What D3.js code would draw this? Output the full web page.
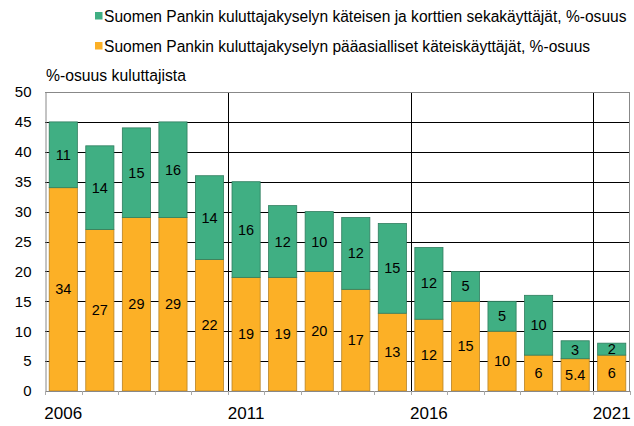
<!DOCTYPE html>
<html>
<head>
<meta charset="utf-8">
<script src="https://cdn.jsdelivr.net/npm/d3@7"></script>
<style>
    body { margin: 0; background: #fff; }
    svg { display: block; font-family: "Liberation Sans", Arial, sans-serif; }
</style>
</head>
<body>
<svg id="chart" width="634" height="426"></svg>
<script>
var years = [2006, 2007, 2008, 2009, 2010, 2011, 2012, 2013, 2014, 2015, 2016, 2017, 2018, 2019, 2020, 2021];
var cashMain = [34, 27, 29, 29, 22, 19, 19, 20, 17, 13, 12, 15, 10, 6, 5.4, 6];
var mixedUse = [11, 14, 15, 16, 14, 16, 12, 10, 12, 15, 12, 5, 5, 10, 3, 2];
var yTicks = [0, 5, 10, 15, 20, 25, 30, 35, 40, 45, 50];
var xLabels = [2006, 2011, 2016, 2021];
var legendLabels = [
    "Suomen Pankin kuluttajakyselyn käteisen ja korttien sekakäyttäjät, %-osuus",
    "Suomen Pankin kuluttajakyselyn pääasialliset käteiskäyttäjät, %-osuus"
];

var green = "#40af83", orange = "#fcb026";

var svg = d3.select("#chart");
var plotLeft = 45, plotRight = 630, plotTop = 92, plotBottom = 391;

var x = d3.scaleBand().domain(years).range([plotLeft, plotRight]).paddingInner(0.23).paddingOuter(0.115);
var y = d3.scaleLinear().domain([0, 50]).range([plotBottom, plotTop]);
var step = x.step();

// gridlines
svg.selectAll(".grid").data(yTicks.filter(function (d) { return d > 0 && d < 50; }))
    .enter().append("line")
    .attr("x1", plotLeft).attr("x2", plotRight)
    .attr("y1", function (d) { return Math.round(y(d)) + 0.5; })
    .attr("y2", function (d) { return Math.round(y(d)) + 0.5; })
    .style("stroke", "#000").style("stroke-width", 1);

// vertical separators before 2011, 2016, 2021
[2011, 2016, 2021].forEach(function (yr) {
    var xs = Math.round(x(yr) - x.paddingInner() * step / 2) + 0.5;
    svg.append("line").attr("x1", xs).attr("x2", xs).attr("y1", plotTop).attr("y2", plotBottom)
        .style("stroke", "#000").style("stroke-width", 1);
});

// frame
svg.append("line").attr("x1", plotLeft).attr("x2", plotRight).attr("y1", plotTop + 0.5).attr("y2", plotTop + 0.5)
    .style("stroke", "#888");
svg.append("line").attr("x1", plotRight - 0.5).attr("x2", plotRight - 0.5).attr("y1", plotTop).attr("y2", plotBottom)
    .style("stroke", "#888");

// bars
var bars = svg.selectAll(".bar").data(years).enter().append("g");
bars.append("rect")
    .attr("x", function (d) { return x(d); })
    .attr("width", x.bandwidth())
    .attr("y", function (d, i) { return y(cashMain[i]); })
    .attr("height", function (d, i) { return y(0) - y(cashMain[i]); })
    .style("fill", orange).style("stroke", "#b78326").style("stroke-width", 0.8);
bars.append("rect")
    .attr("x", function (d) { return x(d); })
    .attr("width", x.bandwidth())
    .attr("y", function (d, i) { return y(cashMain[i] + mixedUse[i]); })
    .attr("height", function (d, i) { return y(cashMain[i]) - y(cashMain[i] + mixedUse[i]); })
    .style("fill", green).style("stroke", "#2f7d5e").style("stroke-width", 0.8);

// value labels
bars.append("text")
    .attr("x", function (d) { return x(d) + x.bandwidth() / 2; })
    .attr("y", function (d, i) { return (y(0) + y(cashMain[i])) / 2 + 5; })
    .attr("text-anchor", "middle").style("font-size", "14.5px")
    .text(function (d, i) { return cashMain[i]; });
bars.append("text")
    .attr("x", function (d) { return x(d) + x.bandwidth() / 2; })
    .attr("y", function (d, i) { return (y(cashMain[i]) + y(cashMain[i] + mixedUse[i])) / 2 + 5; })
    .attr("text-anchor", "middle").style("font-size", "14.5px")
    .text(function (d, i) { return mixedUse[i]; });

// y axis
var yAxis = svg.append("g").attr("transform", "translate(" + (plotLeft + 0.5) + ",0)")
    .call(d3.axisLeft(y).tickValues(yTicks).tickSize(0).tickPadding(14));
yAxis.select(".domain").style("stroke", "#888");
yAxis.selectAll("text").style("font-size", "15px").style("font-family", "Liberation Sans, Arial, sans-serif")
    .style("fill", "#000");

// x axis
svg.append("line").attr("x1", plotLeft).attr("x2", plotRight).attr("y1", plotBottom + 0.5).attr("y2", plotBottom + 0.5)
    .style("stroke", "#888");
svg.selectAll(".xtick").data(years.concat(["end"])).enter().append("line")
    .attr("x1", function (d, i) { return Math.round(plotLeft + i * step) + 0.5; })
    .attr("x2", function (d, i) { return Math.round(plotLeft + i * step) + 0.5; })
    .attr("y1", plotBottom).attr("y2", plotBottom + 4)
    .style("stroke", "#aaa");
svg.selectAll(".xlab").data(xLabels).enter().append("text")
    .attr("x", function (d) { return x(d) + x.bandwidth() / 2; })
    .attr("y", 419)
    .attr("text-anchor", "middle").style("font-size", "17px")
    .text(function (d) { return d; });

// axis title, sized to the reference width
var title = svg.append("text").attr("x", 46).attr("y", 81).style("font-size", "16px").text("%-osuus kuluttajista");
var tw = title.node().getComputedTextLength();
title.style("font-size", (16 * 140 / tw) + "px");

// legend; font fitted so the first line spans like the reference
var legendColors = [green, orange];
var probe = svg.append("text").style("font-size", "16px").text(legendLabels[0]);
var legendSize = 16 * 523 / probe.node().getComputedTextLength();
probe.remove();
legendLabels.forEach(function (lab, i) {
    var ly = 21.5 + i * 30;
    svg.append("rect").attr("x", 95).attr("y", ly - 9.5).attr("width", 7.5).attr("height", 7.5)
        .style("fill", legendColors[i]);
    svg.append("text").attr("x", 104).attr("y", ly).style("font-size", legendSize + "px").text(lab);
});
</script>
</body>
</html>
